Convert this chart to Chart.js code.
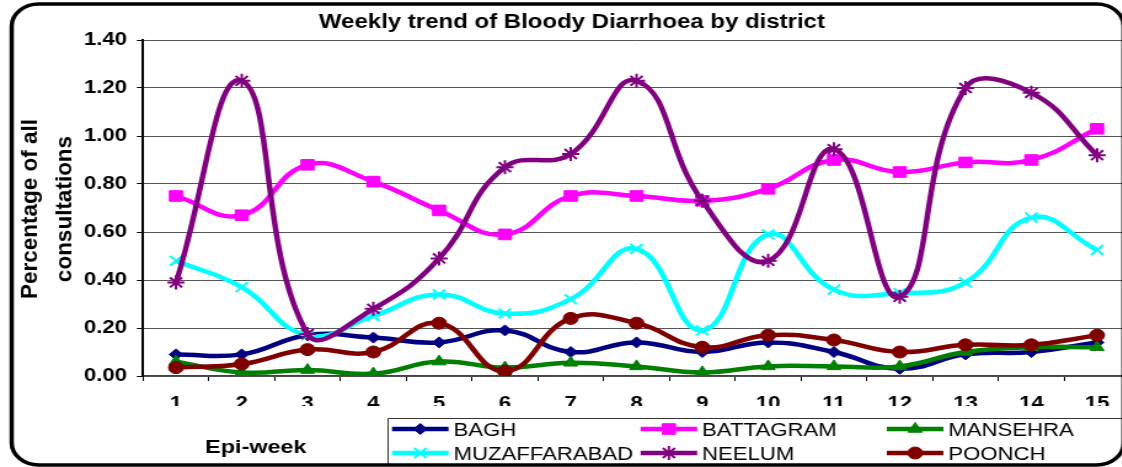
<!DOCTYPE html>
<html><head><meta charset="utf-8">
<script src="https://cdn.jsdelivr.net/npm/chart.js@4.4.1/dist/chart.umd.min.js"></script>
<style>
html,body{margin:0;padding:0;background:#fff;overflow:hidden;width:1122px;height:467px;}
#wrap{position:absolute;left:0;top:0;width:940px;height:467px;transform:scaleX(1.23);transform-origin:0 0;}
canvas{display:block;}
</style></head><body>
<div id="wrap"><canvas id="c" width="940" height="467"></canvas></div>
<script>
// ---- data ----
const weeks = ['1','2','3','4','5','6','7','8','9','10','11','12','13','14','15'];
const BAGH         = [0.09,0.09,0.17,0.16,0.14,0.19,0.10,0.14,0.10,0.14,0.10,0.03,0.09,0.10,0.14];
const BATTAGRAM    = [0.75,0.67,0.88,0.81,0.69,0.59,0.75,0.75,0.73,0.78,0.90,0.85,0.89,0.90,1.03];
const MANSEHRA     = [0.06,0.015,0.025,0.01,0.06,0.035,0.055,0.04,0.015,0.04,0.04,0.04,0.10,0.12,0.12];
const MUZAFFARABAD = [0.48,0.37,0.17,0.25,0.34,0.26,0.32,0.53,0.19,0.59,0.36,0.345,0.39,0.66,0.525];
const NEELUM       = [0.39,1.23,0.175,0.28,0.49,0.87,0.925,1.23,0.73,0.48,0.945,0.33,1.20,1.18,0.92];
const POONCH       = [0.035,0.05,0.11,0.10,0.22,0.02,0.24,0.22,0.12,0.17,0.15,0.10,0.13,0.13,0.17];
const yTicks = [0,0.2,0.4,0.6,0.8,1.0,1.2,1.4];
const seriesNames = ['BAGH','BATTAGRAM','MANSEHRA','MUZAFFARABAD','NEELUM','POONCH'];
const seriesData = [BAGH,BATTAGRAM,MANSEHRA,MUZAFFARABAD,NEELUM,POONCH];
const seriesColors = ['#000080','#FF00FF','#008000','#00FFFF','#800080','#800000'];
const seriesMarkers = ['rectRot','rect','triangle','crossRot','star','circle'];
const markerRadius = [5.5,7.5,6.5,7,7,6];
const titleText = 'Weekly trend of Bloody Diarrhoea by district';
const yTitle = ['Percentage of all','consultations'];
const xTitle = 'Epi-week';

const FONT = 'Arial, "Liberation Sans", sans-serif';

const datasets = seriesNames.map((n,i)=>{
  const hollow = (seriesMarkers[i]==='crossRot'||seriesMarkers[i]==='star');
  return {
    label:n, data:seriesData[i], borderColor:seriesColors[i], backgroundColor:seriesColors[i],
    borderWidth:4.5, tension:0.45, fill:false,
    pointStyle:seriesMarkers[i], pointRadius:markerRadius[i],
    pointBackgroundColor:seriesColors[i], pointBorderColor:seriesColors[i],
    pointBorderWidth: hollow?2:1,
    order: seriesNames.length-1-i
  };
});

const deco = {
  id:'deco',
  beforeDraw(chart){
    const ctx=chart.ctx; ctx.save(); ctx.fillStyle='#fff'; ctx.fillRect(0,0,chart.width,chart.height); ctx.restore();
  },
  afterDraw(chart){
    const ctx = chart.ctx;
    ctx.save();
    ctx.fillStyle='#000';
    // title
    ctx.font='bold 19.5px '+FONT; ctx.textAlign='center'; ctx.textBaseline='alphabetic';
    ctx.fillText(titleText, 465, 28);
    // y title
    const yb=[30,57.5];
    yTitle.forEach((t,k)=>{
      ctx.save(); ctx.translate(yb[k],209); ctx.rotate(-Math.PI/2); ctx.scale(1,0.81);
      ctx.font='bold 22.5px '+FONT; ctx.textAlign='center'; ctx.textBaseline='alphabetic';
      ctx.fillText(t,0,0); ctx.restore();
    });
    // x title
    ctx.font='bold 19px '+FONT; ctx.textAlign='center';
    ctx.fillText(xTitle, 208, 452.5);
    // legend box
    ctx.strokeStyle='#333'; ctx.lineWidth=1;
    ctx.beginPath(); ctx.moveTo(1000,418.5); ctx.lineTo(315.5,418.5); ctx.lineTo(315.5,466); ctx.stroke();
    const colX=[318.7,520.8,721], rowY=[429,453];
    chart.data.datasets.forEach((ds,i)=>{
      const x0=colX[i%3], y=rowY[Math.floor(i/3)];
      ctx.strokeStyle=ds.borderColor; ctx.lineWidth=ds.borderWidth; ctx.lineCap='butt';
      ctx.beginPath(); ctx.moveTo(x0,y); ctx.lineTo(x0+46,y); ctx.stroke();
      ctx.fillStyle=ds.pointBackgroundColor; ctx.strokeStyle=ds.pointBorderColor; ctx.lineWidth=ds.pointBorderWidth;
      Chart.helpers.drawPoint(ctx,{pointStyle:ds.pointStyle,radius:ds.pointRadius,borderWidth:ds.pointBorderWidth,rotation:0},x0+23,y);
      ctx.fillStyle='#000'; ctx.font='18px '+FONT; ctx.textAlign='left'; ctx.textBaseline='alphabetic';
      ctx.fillText(ds.label, x0+50, y+6.5);
    });
    // outer rounded border
    const L=9.5,T=4,R=913.5,B=465,r=22;
    ctx.strokeStyle='#000'; ctx.lineWidth=3.5;
    ctx.beginPath();
    ctx.moveTo(L+r,T); ctx.lineTo(R-r,T); ctx.arcTo(R,T,R,T+r,r); ctx.lineTo(R,B-r); ctx.arcTo(R,B,R-r,B,r);
    ctx.lineTo(L+r,B); ctx.arcTo(L,B,L,B-r,r); ctx.lineTo(L,T+r); ctx.arcTo(L,T,L+r,T,r); ctx.closePath();
    ctx.stroke();
    ctx.restore();
  }
};

new Chart(document.getElementById('c'), {
  type:'line',
  data:{labels:weeks, datasets},
  options:{
    responsive:false, animation:false, devicePixelRatio:1,
    layout:{padding:{left:0,right:21.3,top:40,bottom:61}},
    plugins:{legend:{display:false},title:{display:false},tooltip:{enabled:false}},
    scales:{
      x:{type:'category', offset:true,
        grid:{offset:true, drawOnChartArea:false, drawTicks:true, tickLength:5, color:'#000', lineWidth:1},
        border:{display:true,color:'#444',width:1.5},
        ticks:{font:{family:FONT,size:18,weight:'bold'},color:'#000',padding:12,maxRotation:0,autoSkip:false},
        afterFit(s){s.height=30;}
      },
      y:{min:0,max:1.4,
        afterBuildTicks(s){s.ticks=yTicks.map(v=>({value:v}));},
        grid:{color:'#555',lineWidth:1,tickLength:5,tickColor:'#000'},
        border:{display:true,color:'#000',width:2},
        ticks:{font:{family:FONT,size:18,weight:'bold'},color:'#000',padding:8,callback:v=>Number(v).toFixed(2)},
        afterFit(s){s.width=116.3;}
      }
    }
  },
  plugins:[deco]
});
</script>
</body></html>
